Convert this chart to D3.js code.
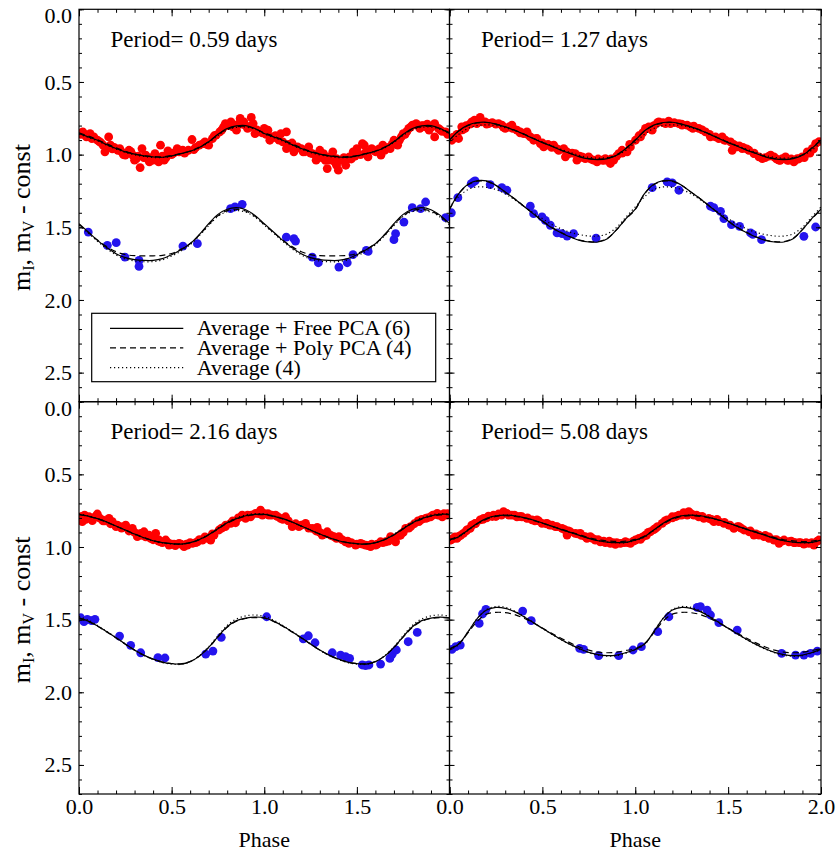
<!DOCTYPE html>
<html>
<head>
<meta charset="utf-8">
<script src="https://cdn.jsdelivr.net/npm/d3@7"></script>
<style>
  body { margin: 0; background: #fff; }
  svg text { font-family: "Liberation Serif", "DejaVu Serif", serif; fill: #000; }
</style>
</head>
<body>
<svg id="chart" width="839" height="854"></svg>
<script>
// phase grid for the model curves (one cycle, drawn twice)
const phaseGrid = [0, 0.05, 0.1, 0.15, 0.2, 0.25, 0.3, 0.35, 0.4, 0.45, 0.5,
                   0.55, 0.6, 0.65, 0.7, 0.75, 0.8, 0.85, 0.9, 0.95, 1];
const periods = ['0.59', '1.27', '2.16', '5.08'];
const legendLabels = ['Average + Free PCA (6)', 'Average + Poly PCA (4)', 'Average (4)'];

// ---- P = 0.59 d ----
const p1ISolid = [0.855,0.878,0.901,0.931,0.958,0.981,0.997,1.009,1.016,1.018,1.009,0.993,0.977,0.951,0.912,0.860,0.820,0.802,0.800,0.820,0.855];
const p1IDash  = [0.850,0.872,0.897,0.926,0.953,0.977,0.995,1.007,1.013,1.014,1.006,0.992,0.975,0.948,0.910,0.862,0.825,0.808,0.806,0.822,0.850];
const p1IDot   = [0.858,0.882,0.906,0.935,0.962,0.985,1.002,1.013,1.020,1.020,1.011,0.995,0.978,0.953,0.916,0.868,0.830,0.812,0.810,0.826,0.858];
const p1VSolid = [1.475,1.532,1.590,1.640,1.682,1.709,1.723,1.728,1.728,1.716,1.689,1.654,1.613,1.549,1.475,1.411,1.376,1.365,1.379,1.418,1.475];
const p1VDash  = [1.480,1.535,1.588,1.633,1.668,1.688,1.695,1.696,1.696,1.693,1.680,1.652,1.612,1.553,1.482,1.420,1.385,1.376,1.388,1.424,1.480];
const p1VDot   = [1.485,1.540,1.597,1.648,1.690,1.718,1.732,1.737,1.736,1.724,1.698,1.664,1.620,1.557,1.488,1.425,1.392,1.385,1.395,1.430,1.485];
const p1Red = [[0.02,0.843],[0.04,0.878],[0.06,0.855],[0.08,0.878],[0.10,0.901],[0.13,0.935],[0.14,0.981],[0.16,0.878],[0.17,0.935],[0.22,0.958],[0.23,0.981],[0.25,1.004],[0.27,0.970],[0.29,1.004],[0.30,1.038],[0.31,1.027],[0.33,1.089],[0.34,0.958],[0.36,1.004],[0.38,1.050],[0.40,1.038],[0.41,0.993],[0.43,1.050],[0.44,0.935],[0.46,1.038],[0.48,0.974],[0.53,0.958],[0.54,0.981],[0.61,0.896],[0.62,0.965],[0.65,0.935],[0.67,0.924],[0.68,0.912],[0.70,0.935],[0.74,0.866],[0.76,0.843],[0.77,0.832],[0.79,0.786],[0.82,0.774],[0.83,0.809],[0.85,0.832],[0.87,0.751],[0.89,0.774],[0.91,0.820],[0.93,0.744],[0.94,0.786],[0.95,0.855],[0.97,0.843],[1.00,0.820],[1.02,0.832],[1.03,0.901],[1.04,0.878],[1.07,0.889],[1.09,0.855],[1.10,0.912],[1.12,0.843],[1.12,0.958],[1.14,0.947],[1.16,0.981],[1.18,0.947],[1.20,0.958],[1.21,0.981],[1.24,0.947],[1.26,0.993],[1.28,1.038],[1.30,0.970],[1.32,0.993],[1.34,1.096],[1.35,1.038],[1.37,0.981],[1.39,1.073],[1.39,1.027],[1.40,1.107],[1.42,1.038],[1.44,1.073],[1.46,1.015],[1.48,0.981],[1.50,0.958],[1.53,0.924],[1.54,0.935],[1.56,1.015],[1.58,0.958],[1.63,1.004],[1.64,0.935],[1.65,0.970],[1.68,0.958],[1.70,0.901],[1.72,0.935],[1.74,0.878],[1.75,0.855],[1.80,0.797],[1.82,0.786],[1.84,0.820],[1.87,0.809],[1.89,0.832],[1.92,0.786],[1.92,0.878],[1.94,0.820],[1.98,0.843],
  [0.01,0.86],[0.05,0.87],[0.11,0.91],[0.19,0.95],[0.21,0.97],[0.26,0.99],[0.35,1.02],[0.39,1.02],[0.45,1.01],[0.50,1.00],[0.57,0.99],[0.59,0.97],[0.72,0.89],[0.80,0.80],[0.86,0.79],[0.90,0.80],[0.99,0.85],[1.06,0.87],[1.15,0.92],[1.23,0.97],[1.29,1.00],[1.36,1.01],[1.43,1.02],[1.47,1.03],[1.52,1.00],[1.60,0.98],[1.67,0.95],[1.71,0.92],[1.77,0.84],[1.78,0.82],[1.85,0.80],[1.90,0.81],[1.96,0.84],
  [0.03,0.86],[0.07,0.89],[0.12,0.92],[0.15,0.95],[0.18,0.96],[0.24,1.00],[0.28,0.98],[0.32,1.01],[0.37,1.03],[0.42,1.02],[0.47,1.02],[0.51,0.99],[0.56,0.97],[0.63,0.95],[0.69,0.93],[0.73,0.87],[0.78,0.81],[0.84,0.80],[0.88,0.79],[0.92,0.81],[0.96,0.83],[1.01,0.86],[1.05,0.88],[1.08,0.90],[1.13,0.93],[1.17,0.96],[1.22,0.98],[1.25,0.99],[1.31,1.02],[1.33,1.04],[1.38,1.05],[1.41,1.04],[1.45,1.03],[1.49,1.01],[1.55,0.98],[1.59,0.97],[1.62,0.96],[1.69,0.93],[1.73,0.90],[1.76,0.86],[1.79,0.81],[1.83,0.80],[1.86,0.80],[1.88,0.79],[1.91,0.80],[1.95,0.83],[1.99,0.86]];
const p1Blue = [[0.050,1.533],[0.153,1.624],[0.201,1.606],[0.248,1.705],[0.324,1.728],[0.324,1.769],[0.561,1.629],[0.639,1.613],[0.818,1.372],[0.842,1.360],[0.881,1.342],[1.119,1.567],[1.160,1.578],[1.169,1.595],[1.259,1.705],[1.292,1.744],[1.403,1.774],[1.448,1.744],[1.479,1.688],[1.551,1.659],[1.561,1.666],[1.700,1.585],[1.709,1.544],[1.754,1.464],[1.799,1.365],[1.844,1.372],[1.871,1.326],[1.979,1.434]];

// ---- P = 1.27 d ----
const p2ISolid = [0.901,0.836,0.797,0.779,0.777,0.790,0.809,0.832,0.859,0.889,0.917,0.942,0.970,0.992,1.015,1.029,1.034,1.027,1.004,0.958,0.901];
const p2IDash  = [0.898,0.838,0.800,0.782,0.779,0.790,0.808,0.831,0.858,0.887,0.915,0.941,0.968,0.991,1.013,1.027,1.031,1.024,1.001,0.955,0.898];
const p2IDot   = [0.915,0.860,0.820,0.800,0.795,0.800,0.815,0.835,0.860,0.887,0.913,0.938,0.963,0.985,1.005,1.019,1.024,1.020,1.005,0.970,0.915];
const p2VSolid = [1.375,1.268,1.204,1.179,1.181,1.211,1.257,1.303,1.355,1.406,1.457,1.503,1.537,1.567,1.590,1.601,1.601,1.578,1.516,1.440,1.375];
const p2VDash  = [1.378,1.270,1.207,1.183,1.185,1.213,1.258,1.304,1.355,1.405,1.455,1.500,1.535,1.565,1.588,1.598,1.598,1.576,1.516,1.443,1.378];
const p2VDot   = [1.360,1.290,1.240,1.222,1.225,1.240,1.270,1.310,1.355,1.400,1.440,1.480,1.510,1.535,1.550,1.560,1.560,1.545,1.500,1.430,1.360];
const p2Red = [[0.013,0.901],[0.031,0.878],[0.049,0.889],[0.066,0.809],[0.084,0.820],[0.120,0.774],[0.135,0.763],[0.147,0.786],[0.165,0.744],[0.174,0.774],[0.192,0.774],[0.210,0.786],[0.264,0.786],[0.282,0.797],[0.300,0.820],[0.336,0.797],[0.363,0.832],[0.381,0.843],[0.399,0.855],[0.417,0.843],[0.435,0.878],[0.453,0.901],[0.471,0.889],[0.489,0.924],[0.507,0.947],[0.534,0.935],[0.561,0.935],[0.588,0.970],[0.615,0.958],[0.624,1.015],[0.642,0.993],[0.677,0.993],[0.686,1.038],[0.713,1.015],[0.731,1.027],[0.749,1.015],[0.776,1.038],[0.794,1.050],[0.821,1.038],[0.839,1.027],[0.866,1.061],[0.884,1.038],[0.911,0.993],[0.929,0.970],[0.956,0.981],[0.974,0.947],[1.001,0.901],[1.028,0.878],[1.055,0.820],[1.073,0.809],[1.091,0.832],[1.127,0.774],[1.163,0.786],[1.190,0.786],[1.235,0.786],[1.252,0.797],[1.279,0.797],[1.297,0.809],[1.315,0.804],[1.342,0.820],[1.378,0.843],[1.405,0.878],[1.432,0.878],[1.468,0.878],[1.486,0.901],[1.513,0.912],[1.522,0.970],[1.549,0.947],[1.576,0.958],[1.612,0.970],[1.639,0.993],[1.666,1.015],[1.684,1.027],[1.729,1.004],[1.747,1.015],[1.774,1.038],[1.792,1.027],[1.809,1.015],[1.827,1.038],[1.854,1.050],[1.872,1.027],[1.899,1.015],[1.926,0.981],[1.953,0.958],[1.971,0.924],
  [0.02,0.88],[0.09,0.80],[0.23,0.78],[0.32,0.81],[0.55,0.95],[0.66,0.99],[0.70,1.01],[0.80,1.03],[0.85,1.04],[0.90,1.01],[1.04,0.85],[1.10,0.80],[1.15,0.78],[1.21,0.78],[1.36,0.83],[1.45,0.89],[1.56,0.94],[1.60,0.96],[1.70,1.02],[1.76,1.03],[1.84,1.03],[1.88,1.03],[1.94,0.99],[1.99,0.91],
  [0.04,0.86],[0.07,0.83],[0.11,0.79],[0.16,0.77],[0.20,0.79],[0.25,0.79],[0.29,0.81],[0.34,0.82],[0.38,0.85],[0.42,0.86],[0.46,0.89],[0.50,0.92],[0.53,0.93],[0.58,0.96],[0.63,0.98],[0.72,1.02],[0.76,1.03],[0.83,1.04],[0.87,1.03],[0.93,0.99],[0.97,0.93],[1.02,0.87],[1.07,0.82],[1.12,0.78],[1.18,0.77],[1.25,0.79],[1.31,0.82],[1.40,0.86],[1.48,0.90],[1.53,0.93],[1.58,0.95],[1.64,0.99],[1.72,1.01],[1.78,1.04],[1.82,1.04],[1.86,1.04],[1.91,1.02],[1.96,0.96]];
const p2Blue = [[0.01,1.40],[0.045,1.296],[0.117,1.199],[0.129,1.188],[0.138,1.181],[0.219,1.206],[0.282,1.227],[0.309,1.245],[0.435,1.355],[0.453,1.406],[0.498,1.429],[0.516,1.452],[0.543,1.486],[0.579,1.539],[0.606,1.544],[0.633,1.560],[0.668,1.544],[0.789,1.574],[1.091,1.227],[1.172,1.188],[1.199,1.195],[1.235,1.245],[1.405,1.355],[1.423,1.365],[1.459,1.390],[1.477,1.440],[1.518,1.482],[1.562,1.493],[1.621,1.539],[1.633,1.548],[1.680,1.585],[1.908,1.562],[1.971,1.498]];

// ---- P = 2.16 d ----
const p3ISolid = [0.775,0.787,0.805,0.828,0.856,0.883,0.911,0.936,0.957,0.970,0.977,0.980,0.970,0.948,0.915,0.874,0.833,0.805,0.785,0.775,0.775];
const p3IDash  = [0.778,0.789,0.806,0.829,0.856,0.883,0.910,0.935,0.955,0.969,0.977,0.979,0.971,0.950,0.917,0.876,0.836,0.808,0.788,0.779,0.778];
const p3IDot   = [0.772,0.785,0.804,0.828,0.857,0.885,0.913,0.938,0.958,0.972,0.979,0.981,0.970,0.946,0.912,0.870,0.828,0.799,0.779,0.770,0.772];
const p3VSolid = [1.487,1.510,1.544,1.583,1.624,1.668,1.709,1.744,1.771,1.792,1.803,1.806,1.789,1.751,1.691,1.617,1.549,1.507,1.489,1.482,1.487];
const p3VDash  = [1.490,1.512,1.546,1.585,1.626,1.669,1.710,1.745,1.772,1.792,1.802,1.804,1.788,1.750,1.692,1.620,1.553,1.511,1.492,1.486,1.490];
const p3VDot   = [1.478,1.503,1.540,1.581,1.623,1.668,1.710,1.746,1.774,1.795,1.806,1.808,1.790,1.748,1.686,1.610,1.540,1.495,1.474,1.468,1.478];
const p3Red = [[0.009,0.792],[0.018,0.826],[0.036,0.810],[0.054,0.792],[0.072,0.819],[0.099,0.773],[0.126,0.814],[0.162,0.803],[0.180,0.826],[0.207,0.849],[0.225,0.860],[0.252,0.849],[0.288,0.872],[0.315,0.929],[0.333,0.906],[0.351,0.895],[0.378,0.918],[0.387,0.941],[0.414,0.906],[0.432,0.952],[0.441,0.964],[0.468,0.952],[0.486,0.987],[0.513,0.980],[0.540,0.975],[0.567,0.998],[0.585,0.987],[0.612,0.975],[0.639,0.964],[0.666,0.952],[0.693,0.941],[0.711,0.952],[0.729,0.918],[0.756,0.883],[0.792,0.849],[0.819,0.837],[0.845,0.833],[0.881,0.780],[0.899,0.803],[0.926,0.792],[0.953,0.769],[0.980,0.746],[0.998,0.769],[1.025,0.780],[1.061,0.780],[1.088,0.803],[1.115,0.792],[1.151,0.860],[1.187,0.860],[1.223,0.837],[1.259,0.872],[1.286,0.865],[1.313,0.918],[1.340,0.895],[1.376,0.929],[1.403,0.929],[1.439,0.964],[1.457,0.975],[1.493,0.987],[1.520,0.975],[1.547,0.987],[1.574,0.998],[1.601,0.987],[1.628,0.964],[1.655,0.964],[1.682,0.929],[1.709,0.964],[1.736,0.918],[1.763,0.872],[1.790,0.860],[1.835,0.826],[1.871,0.803],[1.898,0.792],[1.934,0.769],[1.961,0.792],[1.988,0.780],
  [0.03,0.78],[0.11,0.80],[0.14,0.82],[0.20,0.86],[0.27,0.89],[0.36,0.93],[0.45,0.97],[0.50,0.98],[0.55,0.98],[0.60,0.97],[0.65,0.95],[0.77,0.87],[0.83,0.82],[0.86,0.80],[0.91,0.78],[0.97,0.77],[1.04,0.78],[1.13,0.82],[1.20,0.85],[1.30,0.90],[1.36,0.92],[1.42,0.95],[1.47,0.97],[1.53,0.98],[1.58,0.98],[1.64,0.97],[1.70,0.94],[1.75,0.90],[1.81,0.84],[1.85,0.81],[1.91,0.78],[1.97,0.77],
  [0.02,0.79],[0.06,0.80],[0.09,0.79],[0.13,0.82],[0.17,0.84],[0.23,0.87],[0.30,0.90],[0.34,0.92],[0.40,0.95],[0.43,0.96],[0.48,0.97],[0.52,0.99],[0.58,0.98],[0.63,0.97],[0.68,0.93],[0.72,0.91],[0.79,0.86],[0.88,0.79],[0.93,0.78],[0.99,0.78],[1.02,0.77],[1.07,0.79],[1.10,0.81],[1.17,0.84],[1.24,0.87],[1.28,0.89],[1.33,0.91],[1.39,0.94],[1.45,0.96],[1.50,0.98],[1.56,0.99],[1.61,0.98],[1.67,0.96],[1.73,0.92],[1.78,0.87],[1.83,0.82],[1.88,0.80],[1.94,0.78],[1.99,0.77]];
const p3Blue = [[0.009,1.487],[0.027,1.514],[0.045,1.498],[0.068,1.507],[0.086,1.498],[0.219,1.613],[0.279,1.677],[0.333,1.728],[0.426,1.762],[0.464,1.764],[0.684,1.737],[0.723,1.716],[0.768,1.622],[1.013,1.480],[1.211,1.633],[1.238,1.611],[1.274,1.659],[1.367,1.728],[1.412,1.744],[1.439,1.755],[1.461,1.767],[1.529,1.812],[1.547,1.817],[1.565,1.812],[1.628,1.806],[1.678,1.767],[1.691,1.737],[1.713,1.709],[1.777,1.652],[1.826,1.588]];

// ---- P = 5.08 d ----
const p4ISolid = [0.952,0.929,0.883,0.837,0.803,0.785,0.780,0.785,0.798,0.814,0.835,0.856,0.879,0.899,0.920,0.941,0.957,0.966,0.970,0.968,0.952];
const p4IDash  = [0.948,0.925,0.882,0.840,0.808,0.790,0.785,0.789,0.800,0.816,0.836,0.856,0.877,0.896,0.916,0.935,0.950,0.958,0.962,0.960,0.948];
const p4IDot   = [0.955,0.932,0.887,0.840,0.805,0.786,0.780,0.784,0.797,0.814,0.836,0.858,0.880,0.900,0.920,0.940,0.956,0.966,0.971,0.970,0.955];
const p4VSolid = [1.705,1.668,1.583,1.491,1.434,1.416,1.422,1.445,1.480,1.519,1.560,1.599,1.636,1.670,1.700,1.725,1.741,1.748,1.744,1.727,1.705];
const p4VDash  = [1.700,1.665,1.590,1.510,1.462,1.450,1.452,1.465,1.490,1.522,1.558,1.594,1.628,1.660,1.688,1.710,1.724,1.728,1.724,1.712,1.700];
const p4VDot   = [1.708,1.672,1.585,1.490,1.430,1.410,1.415,1.440,1.477,1.518,1.560,1.600,1.638,1.672,1.703,1.728,1.745,1.752,1.748,1.730,1.708];
const p4Red = [[0.004,0.952],[0.022,0.941],[0.049,0.929],[0.075,0.906],[0.093,0.883],[0.111,0.872],[0.138,0.837],[0.165,0.814],[0.183,0.803],[0.210,0.787],[0.237,0.780],[0.264,0.773],[0.291,0.757],[0.309,0.769],[0.336,0.780],[0.363,0.792],[0.390,0.792],[0.417,0.803],[0.444,0.814],[0.471,0.814],[0.498,0.837],[0.525,0.837],[0.552,0.849],[0.579,0.860],[0.606,0.872],[0.633,0.918],[0.650,0.895],[0.677,0.906],[0.704,0.906],[0.731,0.929],[0.758,0.929],[0.785,0.952],[0.812,0.964],[0.839,0.970],[0.866,0.975],[0.893,0.982],[0.920,0.975],[0.947,0.964],[0.974,0.975],[1.001,0.952],[1.028,0.948],[1.055,0.918],[1.082,0.895],[1.109,0.872],[1.145,0.837],[1.172,0.814],[1.199,0.792],[1.235,0.780],[1.261,0.764],[1.288,0.757],[1.315,0.780],[1.342,0.792],[1.369,0.803],[1.396,0.803],[1.423,0.826],[1.450,0.826],[1.477,0.837],[1.504,0.849],[1.531,0.872],[1.558,0.860],[1.585,0.883],[1.612,0.895],[1.639,0.918],[1.666,0.918],[1.693,0.929],[1.720,0.941],[1.747,0.952],[1.774,0.975],[1.801,0.952],[1.827,0.964],[1.854,0.970],[1.881,0.970],[1.908,0.980],[1.935,0.975],[1.962,0.987],[1.989,0.952],
  [0.03,0.93],[0.06,0.92],[0.12,0.85],[0.20,0.80],[0.25,0.79],[0.32,0.78],[0.38,0.79],[0.46,0.82],[0.54,0.85],[0.62,0.88],[0.69,0.91],[0.74,0.94],[0.80,0.95],[0.86,0.96],[0.90,0.97],[0.96,0.97],[1.04,0.93],[1.07,0.90],[1.12,0.86],[1.22,0.79],[1.28,0.78],[1.33,0.78],[1.41,0.81],[1.48,0.83],[1.55,0.86],[1.62,0.89],[1.70,0.92],[1.76,0.95],[1.84,0.96],[1.89,0.97],[1.95,0.97],
  [0.01,0.95],[0.04,0.94],[0.09,0.89],[0.14,0.84],[0.18,0.81],[0.23,0.79],[0.28,0.78],[0.35,0.78],[0.42,0.80],[0.48,0.82],[0.52,0.84],[0.57,0.86],[0.64,0.89],[0.71,0.92],[0.77,0.94],[0.83,0.96],[0.88,0.97],[0.94,0.97],[0.99,0.96],[1.02,0.94],[1.06,0.92],[1.10,0.88],[1.16,0.82],[1.20,0.80],[1.25,0.78],[1.30,0.77],[1.36,0.79],[1.44,0.81],[1.51,0.85],[1.57,0.87],[1.65,0.91],[1.72,0.93],[1.79,0.96],[1.86,0.97],[1.92,0.97],[1.98,0.96]];
const p4Blue = [[0.013,1.705],[0.034,1.686],[0.058,1.675],[0.160,1.526],[0.178,1.461],[0.196,1.429],[0.394,1.441],[0.440,1.507],[0.701,1.698],[0.722,1.705],[0.803,1.748],[0.911,1.748],[0.988,1.709],[1.033,1.686],[1.121,1.583],[1.181,1.480],[1.333,1.416],[1.351,1.411],[1.387,1.434],[1.405,1.468],[1.450,1.521],[1.549,1.572],[1.788,1.732],[1.863,1.744],[1.908,1.744],[1.944,1.732],[1.980,1.716]];

const panels = [
  { period: periods[0], red: p1Red, blue: p1Blue, I: [p1ISolid, p1IDash, p1IDot], V: [p1VSolid, p1VDash, p1VDot], col: 0, row: 0 },
  { period: periods[1], red: p2Red, blue: p2Blue, I: [p2ISolid, p2IDash, p2IDot], V: [p2VSolid, p2VDash, p2VDot], col: 1, row: 0 },
  { period: periods[2], red: p3Red, blue: p3Blue, I: [p3ISolid, p3IDash, p3IDot], V: [p3VSolid, p3VDash, p3VDot], col: 0, row: 1 },
  { period: periods[3], red: p4Red, blue: p4Blue, I: [p4ISolid, p4IDash, p4IDot], V: [p4VSolid, p4VDash, p4VDot], col: 1, row: 1 }
];

const svg = d3.select('#chart');
const colX = [[79, 449.5], [449.5, 821]];
const rowY = [[9.3, 401.7], [401.7, 794]];
const dashes = [null, '6,4', '1.2,2.8'];
const fmt = d3.format('.1f');

panels.forEach((p, i) => {
  const [x0, x1] = colX[p.col];
  const [y0, y1] = rowY[p.row];
  const x = d3.scaleLinear().domain([0, 2]).range([x0, x1]);
  const y = d3.scaleLinear().domain([0, 2.7]).range([y0, y1]);

  svg.append('clipPath').attr('id', 'clip' + i)
    .append('rect').attr('x', x0).attr('y', y0).attr('width', x1 - x0).attr('height', y1 - y0);
  const plot = svg.append('g').attr('clip-path', `url(#clip${i})`);

  plot.append('g').selectAll('circle').data(p.red).join('circle')
    .attr('cx', d => x(d[0])).attr('cy', d => y(d[1])).attr('r', 4.4).attr('fill', '#ff0000');
  plot.append('g').selectAll('circle').data(p.blue).join('circle')
    .attr('cx', d => x(d[0])).attr('cy', d => y(d[1])).attr('r', 4.4).attr('fill', '#2414ee');

  const line = d3.line().x(d => x(d[0])).y(d => y(d[1])).curve(d3.curveCatmullRom);
  [p.I, p.V].forEach(band => {
    band.forEach((vals, k) => {
      // model is periodic: same cycle drawn over phase 0-1 and 1-2
      const pts = phaseGrid.map((ph, j) => [ph, vals[j]])
        .concat(phaseGrid.slice(1).map((ph, j) => [ph + 1, vals[j + 1]]));
      plot.append('path').datum(pts).attr('d', line)
        .attr('fill', 'none').attr('stroke', '#000').attr('stroke-width', 1.2)
        .attr('stroke-dasharray', dashes[k]);
    });
  });

  // axes with inward ticks on all four sides
  const g = svg.append('g');
  const xMajor = d3.range(0, 2.001, 0.5);
  const xMinor = d3.range(0, 2.001, 0.1);
  const yMajor = d3.range(0, 2.51, 0.5);
  const yMinor = d3.range(0, 2.71, 0.1);

  const addX = (yPos, dir, vals, len, labels) => {
    const ax = (dir > 0 ? d3.axisBottom(x) : d3.axisTop(x))
      .tickValues(vals).tickSizeInner(-len).tickSizeOuter(0).tickPadding(4)
      .tickFormat(labels ? (v => (p.col === 0 && v > 1.9) ? '' : fmt(v)) : '');
    const a = g.append('g').attr('transform', `translate(0,${yPos})`).call(ax)
      .attr('font-family', null).attr('font-size', 22);
    a.select('.domain').remove();
    a.selectAll('line').attr('stroke', '#000');
  };
  const addY = (xPos, dir, vals, len, labels) => {
    const ax = (dir < 0 ? d3.axisLeft(y) : d3.axisRight(y))
      .tickValues(vals).tickSizeInner(-len).tickSizeOuter(0).tickPadding(7)
      .tickFormat(labels ? fmt : '');
    const a = g.append('g').attr('transform', `translate(${xPos},0)`).call(ax)
      .attr('font-family', null).attr('font-size', 22);
    a.select('.domain').remove();
    a.selectAll('line').attr('stroke', '#000');
    // the 0.0 label sits a little below its tick, as in the original
    a.selectAll('text').filter(v => v === 0).attr('dy', '0.62em');
  };

  addX(y1, 1, xMajor, 7, p.row === 1);
  addX(y1, 1, xMinor, 3.5, false);
  addX(y0, -1, xMajor, 7, false);
  addX(y0, -1, xMinor, 3.5, false);
  addY(x0, -1, yMajor, 5, p.col === 0);
  addY(x0, -1, yMinor, 3, false);
  addY(x1, 1, yMajor, 5, false);
  addY(x1, 1, yMinor, 3, false);

  g.append('rect').attr('x', x0).attr('y', y0).attr('width', x1 - x0).attr('height', y1 - y0)
    .attr('fill', 'none').attr('stroke', '#000').attr('stroke-width', 1.2);

  svg.append('text').attr('x', x0 + 31.5).attr('y', y0 + 37.5)
    .attr('font-size', 23).text(`Period= ${p.period} days`);

  if (p.row === 1) {
    svg.append('text').attr('x', x(1)).attr('y', 847).attr('text-anchor', 'middle')
      .attr('font-size', 22).text('Phase');
  }
  if (p.col === 0) {
    const t = svg.append('text')
      .attr('transform', `translate(30,${(y0 + y1) / 2 + 12}) rotate(-90)`)
      .attr('text-anchor', 'middle').attr('font-size', 26);
    t.append('tspan').text('m');
    t.append('tspan').attr('font-size', 16).attr('dy', 4).text('I');
    t.append('tspan').attr('dy', -4).text(', m');
    t.append('tspan').attr('font-size', 16).attr('dy', 4).text('V');
    t.append('tspan').attr('dy', -4).text(' - const');
  }

  if (i === 0) {
    const lg = svg.append('g');
    lg.append('rect').attr('x', 91.7).attr('y', 313.3).attr('width', 344).attr('height', 68.4)
      .attr('fill', '#fff').attr('stroke', '#000').attr('stroke-width', 1.2);
    const rows = [328.3, 347.8, 367.7];
    legendLabels.forEach((lab, k) => {
      lg.append('line').attr('x1', 110).attr('x2', 183.3).attr('y1', rows[k]).attr('y2', rows[k])
        .attr('stroke', '#000').attr('stroke-width', 1.2).attr('stroke-dasharray', dashes[k]);
      lg.append('text').attr('x', 196.7).attr('y', rows[k] + 7).attr('font-size', 22).text(lab);
    });
  }
});
</script>
</body>
</html>
